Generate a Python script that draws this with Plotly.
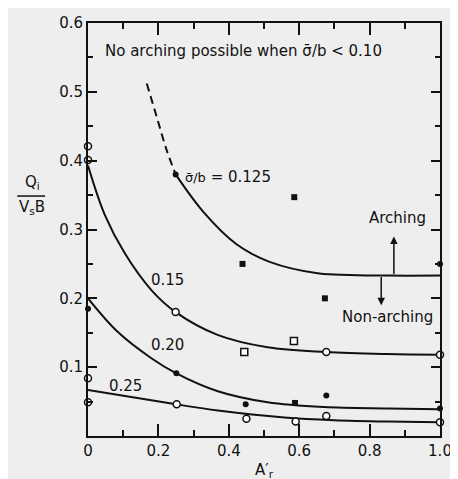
import plotly.graph_objects as go

# ---- data ----
# curve sigma/b = 0.125 (dashed extrapolation + solid)
c0125_dash_x = [0.167, 0.195, 0.223, 0.249]
c0125_dash_y = [0.512, 0.464, 0.416, 0.38]
c0125_x = [0.249, 0.327, 0.421, 0.516, 0.657, 0.742, 0.85, 1.0]
c0125_y = [0.38, 0.326, 0.279, 0.253, 0.236, 0.234, 0.233, 0.233]
# curve 0.15
c015_x = [0.0, 0.048, 0.105, 0.18, 0.249, 0.368, 0.51, 0.676, 0.85, 1.0]
c015_y = [0.393, 0.321, 0.265, 0.212, 0.18, 0.147, 0.129, 0.122, 0.119, 0.118]
# curve 0.20
c020_x = [0.0, 0.085, 0.18, 0.251, 0.369, 0.51, 0.671, 0.85, 1.0]
c020_y = [0.2, 0.151, 0.113, 0.091, 0.065, 0.049, 0.042, 0.040, 0.039]
# curve 0.25
c025_x = [0.0, 0.25, 0.369, 0.558, 0.70, 0.85, 1.0]
c025_y = [0.067, 0.046, 0.037, 0.027, 0.023, 0.021, 0.020]

# measured points
filled_circle_x = [0.249, 1.0, 0.0, 0.251, 0.448, 0.677, 1.0]
filled_circle_y = [0.38, 0.25, 0.185, 0.091, 0.046, 0.059, 0.04]
filled_square_x = [0.439, 0.586, 0.673, 0.588]
filled_square_y = [0.25, 0.347, 0.2, 0.048]
open_circle_x = [0.0, 0.0, 0.249, 0.677, 1.0, 0.0, 0.0, 0.252, 0.45, 0.59, 0.677, 1.0]
open_circle_y = [0.421, 0.401, 0.18, 0.122, 0.118, 0.084, 0.049, 0.046, 0.025, 0.021, 0.029, 0.02]
open_square_x = [0.444, 0.585]
open_square_y = [0.122, 0.138]

x_tickvals = [0, 0.2, 0.4, 0.6, 0.8, 1.0]
x_ticktext = ["0", "0.2", "0.4", "0.6", "0.8", "1.0"]
y_tickvals = [0.1, 0.2, 0.3, 0.4, 0.5, 0.6]
y_ticktext = ["0.1", "0.2", "0.3", "0.4", "0.5", "0.6"]

FONT = "DejaVu Sans"
INK = "#111111"
BG = "#eeeeee"

fig = go.Figure()

line_style = dict(color=INK, width=2, shape="spline", smoothing=1.0)
fig.add_trace(go.Scatter(x=c0125_dash_x, y=c0125_dash_y, mode="lines",
                         line=dict(color=INK, width=2, dash="8px,5px", shape="spline"),
                         hoverinfo="skip"))
for cx, cy in [(c0125_x, c0125_y), (c015_x, c015_y), (c020_x, c020_y), (c025_x, c025_y)]:
    fig.add_trace(go.Scatter(x=cx, y=cy, mode="lines", line=line_style, hoverinfo="skip"))

fig.add_trace(go.Scatter(x=open_circle_x, y=open_circle_y, mode="markers", cliponaxis=False,
                         marker=dict(symbol="circle", size=7, color="white",
                                     line=dict(color=INK, width=1.5))))
fig.add_trace(go.Scatter(x=open_square_x, y=open_square_y, mode="markers", cliponaxis=False,
                         marker=dict(symbol="square", size=7, color="white",
                                     line=dict(color=INK, width=1.5))))
fig.add_trace(go.Scatter(x=filled_circle_x, y=filled_circle_y, mode="markers", cliponaxis=False,
                         marker=dict(symbol="circle", size=6, color=INK)))
fig.add_trace(go.Scatter(x=filled_square_x, y=filled_square_y, mode="markers", cliponaxis=False,
                         marker=dict(symbol="square", size=6, color=INK)))

ann_font = dict(family=FONT, size=14, color=INK)
big_font = dict(family=FONT, size=15, color=INK)
annotations = [
    dict(x=0.442, y=0.56, text="No arching possible when σ̄/b &lt; 0.10", showarrow=False,
         xanchor="center", yanchor="middle", font=big_font),
    dict(x=0.27, y=0.376,
         text="<span style='font-size:13px'>σ̄/b</span> = 0.125", showarrow=False,
         xanchor="left", yanchor="middle", font=big_font),
    dict(x=0.227, y=0.227, text="0.15", showarrow=False, font=big_font),
    dict(x=0.225, y=0.132, text="0.20", showarrow=False, font=big_font),
    dict(x=0.107, y=0.073, text="0.25", showarrow=False, font=big_font),
    dict(x=0.878, y=0.317, text="Arching", showarrow=False, font=big_font),
    dict(x=0.85, y=0.173, text="Non-arching", showarrow=False, font=big_font),
    # arrows
    dict(x=0.869, y=0.29, ax=0.869, ay=0.233, axref="x", ayref="y", text="",
         showarrow=True, arrowhead=2, arrowsize=1, arrowwidth=1.5, arrowcolor=INK),
    dict(x=0.833, y=0.19, ax=0.833, ay=0.233, axref="x", ayref="y", text="",
         showarrow=True, arrowhead=2, arrowsize=1, arrowwidth=1.5, arrowcolor=INK),
    # axis titles
    dict(x=-0.159, y=0.614, xref="paper", yref="paper", text="Q<sub>i</sub>",
         showarrow=False, font=big_font, xanchor="center"),
    dict(x=-0.159, y=0.553, xref="paper", yref="paper", text="V<sub>s</sub>B",
         showarrow=False, font=big_font, xanchor="center"),
    dict(x=0.5, y=-0.112, text="A′<sub>r</sub>", showarrow=False, font=big_font,
         yref="paper", xref="paper"),
]

# page body has an 8px default margin -> figure shifted to keep plot area in place
fig.update_layout(
    width=450, height=471,
    margin=dict(l=80, r=17, t=6, b=43),
    paper_bgcolor=BG, plot_bgcolor=BG,
    showlegend=False,
    font=dict(family=FONT, size=15, color=INK),
    annotations=annotations,
    shapes=[dict(type="line", xref="paper", yref="paper",
                 x0=-0.201, x1=-0.122, y0=0.581, y1=0.581,
                 line=dict(color=INK, width=1.5))],
)
fig.update_xaxes(range=[0, 1.0], showgrid=False, zeroline=False,
                 showline=True, linecolor=INK, linewidth=2, mirror="ticks",
                 ticks="inside", ticklen=12, tickwidth=2, tickcolor=INK,
                 tickvals=x_tickvals, ticktext=x_ticktext,
                 ticklabeloverflow="allow",
                 tickfont=dict(family=FONT, size=15, color=INK),
                 minor=dict(dtick=0.1, ticks="inside", ticklen=6, tickwidth=2, tickcolor=INK,
                            showgrid=False))
fig.update_yaxes(range=[0, 0.6], showgrid=False, zeroline=False,
                 showline=True, linecolor=INK, linewidth=2, mirror="ticks",
                 ticks="inside", ticklen=9, tickwidth=2, tickcolor=INK,
                 tickvals=y_tickvals, ticktext=y_ticktext,
                 ticklabeloverflow="allow",
                 tickfont=dict(family=FONT, size=15, color=INK),
                 minor=dict(dtick=0.05, ticks="inside", ticklen=5, tickwidth=2, tickcolor=INK,
                            showgrid=False))

fig.write_html("out.html")
